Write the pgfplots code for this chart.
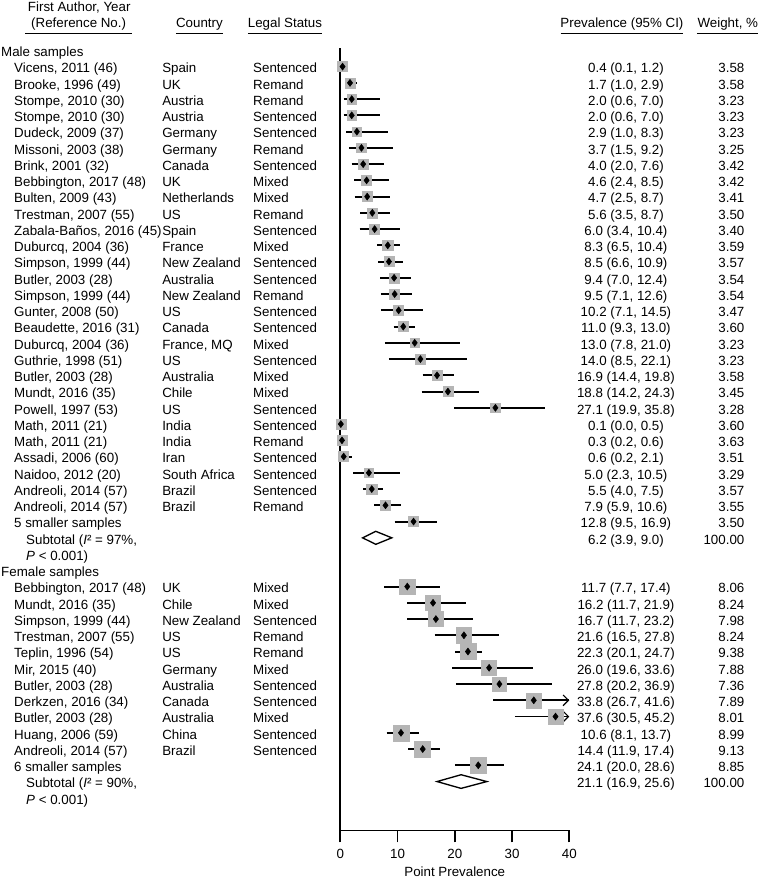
\documentclass[border=0pt]{standalone}
\usepackage{fontspec}
\setmainfont{Liberation Sans}
\usepackage{pgfplots}
\pgfplotsset{compat=1.18}
\usepackage{pgfplotstable}
\usetikzlibrary{arrows.meta}
\definecolor{boxgray}{HTML}{B5B5B5}

% r = row (0 = "Male samples"), est, lo, hi = prevalence and 95% CI, w = weight %
\pgfplotstableread{
r est lo hi w
1 0.4 0.1 1.2 3.58
2 1.7 1.0 2.9 3.58
3 2.0 0.6 7.0 3.23
4 2.0 0.6 7.0 3.23
5 2.9 1.0 8.3 3.23
6 3.7 1.5 9.2 3.25
7 4.0 2.0 7.6 3.42
8 4.6 2.4 8.5 3.42
9 4.7 2.5 8.7 3.41
10 5.6 3.5 8.7 3.50
11 6.0 3.4 10.4 3.40
12 8.3 6.5 10.4 3.59
13 8.5 6.6 10.9 3.57
14 9.4 7.0 12.4 3.54
15 9.5 7.1 12.6 3.54
16 10.2 7.1 14.5 3.47
17 11.0 9.3 13.0 3.60
18 13.0 7.8 21.0 3.23
19 14.0 8.5 22.1 3.23
20 16.9 14.4 19.8 3.58
21 18.8 14.2 24.3 3.45
22 27.1 19.9 35.8 3.28
23 0.1 0.0 0.5 3.60
24 0.3 0.2 0.6 3.63
25 0.6 0.2 2.1 3.51
26 5.0 2.3 10.5 3.29
27 5.5 4.0 7.5 3.57
28 7.9 5.9 10.6 3.55
29 12.8 9.5 16.9 3.50
33 11.7 7.7 17.4 8.06
34 16.2 11.7 21.9 8.24
35 16.7 11.7 23.2 7.98
36 21.6 16.5 27.8 8.24
37 22.3 20.1 24.7 9.38
38 26.0 19.6 33.6 7.88
39 27.8 20.2 36.9 7.36
40 33.8 26.7 41.6 7.89
41 37.6 30.5 45.2 8.01
42 10.6 8.1 13.7 8.99
43 14.4 11.9 17.4 9.13
44 24.1 20.0 28.6 8.85
}\studies

\newcommand\grp[2]{\node[anchor=base west] at (axis cs:-59.27,{-#1-0.39}) {#2};}
\newcommand\st[6]{%
  \node[anchor=base west] at (axis cs:-57.0,{-#1-0.39}) {#2};
  \node[anchor=base west] at (axis cs:-31.14,{-#1-0.39}) {#3};
  \node[anchor=base west] at (axis cs:-15.25,{-#1-0.39}) {#4};
  \node[anchor=base] at (axis cs:49.9,{-#1-0.39}) {#5};
  \node[anchor=base east] at (axis cs:70.63,{-#1-0.39}) {#6};}

\begin{document}
\begin{tikzpicture}
\begin{axis}[
  x=4.294pt, y=12.1875pt,
  xmin=0, xmax=40, ymin=-48, ymax=0.15,
  enlargelimits=false, clip=false,
  axis lines*=left,
  axis line style={line width=1.2pt},
  xtick={0,10,20,30,40}, ytick=\empty,
  tick align=outside, major tick length=9pt,
  tick style={line width=1.2pt, black},
  /pgf/number format/assume math mode=true,
  tick label style={font=\fontsize{10}{12}\selectfont},
  xticklabel style={yshift=-5.2pt},
  nodes={font=\fontsize{10}{12}\selectfont, inner sep=0pt},
]
% confidence intervals
\addplot[black, line width=1.4pt, mark=none,
  quiver={u={min(\thisrow{hi},40)-\thisrow{lo}}, v={0}}]
  table[x=lo, y expr=-\thisrow{r}] {\studies};
\addplot[black, line width=1.4pt, -{Straight Barb[length=4pt,width=8pt,line width=0.9pt]}]
  coordinates {(38,-40) (40,-40)};
\addplot[black, line width=1.4pt, -{Straight Barb[length=4pt,width=8pt,line width=0.9pt]}]
  coordinates {(38,-41) (40,-41)};
% weight boxes
\addplot[scatter, only marks, mark=square*,
  scatter/use mapped color={draw=boxgray, fill=boxgray},
  visualization depends on={1.99*sqrt(\thisrow{w}) \as \ms},
  scatter/@pre marker code/.append style={/tikz/mark size=\ms}]
  table[x=est, y expr=-\thisrow{r}] {\studies};
% point estimates
\addplot[only marks, mark=diamond*, mark size=2.6pt, mark options={draw=black, fill=black}]
  table[x=est, y expr=-\thisrow{r}] {\studies};
% subtotals
\addplot[black, fill=white, line width=1pt] coordinates {(3.9,-30) (6.2,-29.6) (9.0,-30) (6.2,-30.4)} -- cycle;
\addplot[black, fill=white, line width=1pt] coordinates {(16.9,-45) (21.1,-44.58) (25.6,-45) (21.1,-45.42)} -- cycle;

\node[anchor=base] at (axis cs:20,-50.85) {Point Prevalence};

% headers
\node[anchor=base] at (axis cs:-45.6,2.38) {First Author, Year};
\node[anchor=base] at (axis cs:-45.7,1.38) {(Reference No.)};
\node[anchor=base] at (axis cs:-24.6,1.38) {Country};
\node[anchor=base] at (axis cs:-9.66,1.38) {Legal Status};
\node[anchor=base] at (axis cs:49.2,1.38) {Prevalence (95\% CI)};
\node[anchor=base] at (axis cs:67.7,1.38) {Weight, \%};
\draw[line width=0.9pt] (axis cs:-55.07,1.04) -- (axis cs:-36.38,1.04);
\draw[line width=0.9pt] (axis cs:-28.7,1.04) -- (axis cs:-20.49,1.04);
\draw[line width=0.9pt] (axis cs:-16.12,1.04) -- (axis cs:-3.2,1.04);
\draw[line width=0.9pt] (axis cs:38.5,1.04) -- (axis cs:59.91,1.04);
\draw[line width=0.9pt] (axis cs:62.3,1.04) -- (axis cs:72.9,1.04);

\grp{0}{Male samples}
\st{1}{Vicens, 2011 (46)}{Spain}{Sentenced}{0.4 (0.1, 1.2)}{3.58}
\st{2}{Brooke, 1996 (49)}{UK}{Remand}{1.7 (1.0, 2.9)}{3.58}
\st{3}{Stompe, 2010 (30)}{Austria}{Remand}{2.0 (0.6, 7.0)}{3.23}
\st{4}{Stompe, 2010 (30)}{Austria}{Sentenced}{2.0 (0.6, 7.0)}{3.23}
\st{5}{Dudeck, 2009 (37)}{Germany}{Sentenced}{2.9 (1.0, 8.3)}{3.23}
\st{6}{Missoni, 2003 (38)}{Germany}{Remand}{3.7 (1.5, 9.2)}{3.25}
\st{7}{Brink, 2001 (32)}{Canada}{Sentenced}{4.0 (2.0, 7.6)}{3.42}
\st{8}{Bebbington, 2017 (48)}{UK}{Mixed}{4.6 (2.4, 8.5)}{3.42}
\st{9}{Bulten, 2009 (43)}{Netherlands}{Mixed}{4.7 (2.5, 8.7)}{3.41}
\st{10}{Trestman, 2007 (55)}{US}{Remand}{5.6 (3.5, 8.7)}{3.50}
\st{11}{Zabala-Baños, 2016 (45)}{Spain}{Sentenced}{6.0 (3.4, 10.4)}{3.40}
\st{12}{Duburcq, 2004 (36)}{France}{Mixed}{8.3 (6.5, 10.4)}{3.59}
\st{13}{Simpson, 1999 (44)}{New Zealand}{Sentenced}{8.5 (6.6, 10.9)}{3.57}
\st{14}{Butler, 2003 (28)}{Australia}{Sentenced}{9.4 (7.0, 12.4)}{3.54}
\st{15}{Simpson, 1999 (44)}{New Zealand}{Remand}{9.5 (7.1, 12.6)}{3.54}
\st{16}{Gunter, 2008 (50)}{US}{Sentenced}{10.2 (7.1, 14.5)}{3.47}
\st{17}{Beaudette, 2016 (31)}{Canada}{Sentenced}{11.0 (9.3, 13.0)}{3.60}
\st{18}{Duburcq, 2004 (36)}{France, MQ}{Mixed}{13.0 (7.8, 21.0)}{3.23}
\st{19}{Guthrie, 1998 (51)}{US}{Sentenced}{14.0 (8.5, 22.1)}{3.23}
\st{20}{Butler, 2003 (28)}{Australia}{Mixed}{16.9 (14.4, 19.8)}{3.58}
\st{21}{Mundt, 2016 (35)}{Chile}{Mixed}{18.8 (14.2, 24.3)}{3.45}
\st{22}{Powell, 1997 (53)}{US}{Sentenced}{27.1 (19.9, 35.8)}{3.28}
\st{23}{Math, 2011 (21)}{India}{Sentenced}{0.1 (0.0, 0.5)}{3.60}
\st{24}{Math, 2011 (21)}{India}{Remand}{0.3 (0.2, 0.6)}{3.63}
\st{25}{Assadi, 2006 (60)}{Iran}{Sentenced}{0.6 (0.2, 2.1)}{3.51}
\st{26}{Naidoo, 2012 (20)}{South Africa}{Sentenced}{5.0 (2.3, 10.5)}{3.29}
\st{27}{Andreoli, 2014 (57)}{Brazil}{Sentenced}{5.5 (4.0, 7.5)}{3.57}
\st{28}{Andreoli, 2014 (57)}{Brazil}{Remand}{7.9 (5.9, 10.6)}{3.55}
\st{29}{5 smaller samples}{}{}{12.8 (9.5, 16.9)}{3.50}
\node[anchor=base west] at (axis cs:-54.9,{-30-0.39}) {Subtotal (\textit{I}² = 97\%,};
\node[anchor=base] at (axis cs:49.9,{-30-0.39}) {6.2 (3.9, 9.0)};
\node[anchor=base east] at (axis cs:70.63,{-30-0.39}) {100.00};
\node[anchor=base west] at (axis cs:-54.9,{-31-0.39}) {\textit{P} < 0.001)};

\grp{32}{Female samples}
\st{33}{Bebbington, 2017 (48)}{UK}{Mixed}{11.7 (7.7, 17.4)}{8.06}
\st{34}{Mundt, 2016 (35)}{Chile}{Mixed}{16.2 (11.7, 21.9)}{8.24}
\st{35}{Simpson, 1999 (44)}{New Zealand}{Sentenced}{16.7 (11.7, 23.2)}{7.98}
\st{36}{Trestman, 2007 (55)}{US}{Remand}{21.6 (16.5, 27.8)}{8.24}
\st{37}{Teplin, 1996 (54)}{US}{Remand}{22.3 (20.1, 24.7)}{9.38}
\st{38}{Mir, 2015 (40)}{Germany}{Mixed}{26.0 (19.6, 33.6)}{7.88}
\st{39}{Butler, 2003 (28)}{Australia}{Sentenced}{27.8 (20.2, 36.9)}{7.36}
\st{40}{Derkzen, 2016 (34)}{Canada}{Sentenced}{33.8 (26.7, 41.6)}{7.89}
\st{41}{Butler, 2003 (28)}{Australia}{Mixed}{37.6 (30.5, 45.2)}{8.01}
\st{42}{Huang, 2006 (59)}{China}{Sentenced}{10.6 (8.1, 13.7)}{8.99}
\st{43}{Andreoli, 2014 (57)}{Brazil}{Sentenced}{14.4 (11.9, 17.4)}{9.13}
\st{44}{6 smaller samples}{}{}{24.1 (20.0, 28.6)}{8.85}
\node[anchor=base west] at (axis cs:-54.9,{-45-0.39}) {Subtotal (\textit{I}² = 90\%,};
\node[anchor=base] at (axis cs:49.9,{-45-0.39}) {21.1 (16.9, 25.6)};
\node[anchor=base east] at (axis cs:70.63,{-45-0.39}) {100.00};
\node[anchor=base west] at (axis cs:-54.9,{-46-0.39}) {\textit{P} < 0.001)};

\coordinate (tl) at (axis cs:-59.44,3.10);
\coordinate (br) at (axis cs:72.96,-51.12);
\end{axis}
\pgfresetboundingbox
\path (tl) rectangle (br);
\end{tikzpicture}
\end{document}
